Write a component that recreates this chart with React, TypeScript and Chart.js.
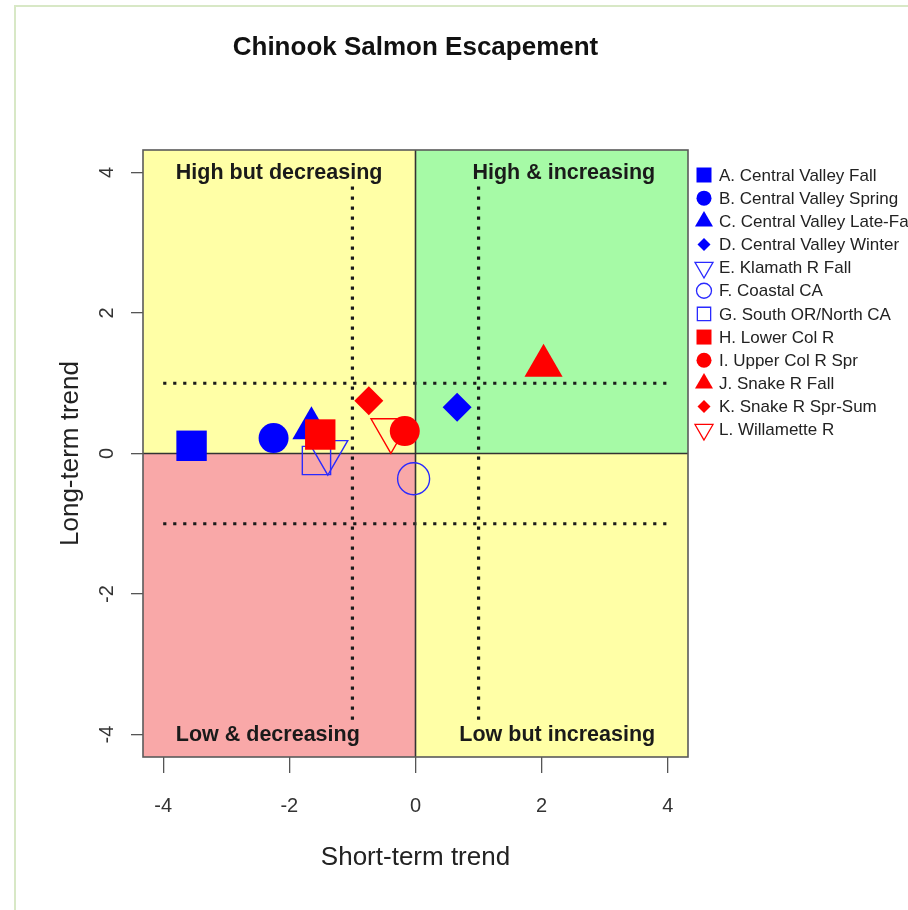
import React, { useEffect, useRef } from 'react';
import { Chart, registerables } from 'chart.js';
import { drawPoint } from 'chart.js/helpers';

Chart.register(...registerables);

// ---------- data ----------
const chartTitle = 'Chinook Salmon Escapement';
const seriesNames = [
  'A. Central Valley Fall',
  'B. Central Valley Spring',
  'C. Central Valley Late-Fall',
  'D. Central Valley Winter',
  'E. Klamath R Fall',
  'F. Coastal CA',
  'G. South OR/North CA',
  'H. Lower Col R',
  'I. Upper Col R Spr',
  'J. Snake R Fall',
  'K. Snake R Spr-Sum',
  'L. Willamette R',
];
const shortTerm = [-3.55, -2.25, -1.65, 0.66, -1.39, -0.03, -1.57, -1.51, -0.17, 2.03, -0.74, -0.39];
const longTerm = [0.11, 0.22, 0.36, 0.66, 0.02, -0.36, -0.1, 0.27, 0.32, 1.25, 0.75, 0.33];
const xTicks = [-4, -2, 0, 2, 4];
const yTicks = [-4, -2, 0, 2, 4];
const thresholds = [-1, 1];
const quadrantLabels = ['High but decreasing', 'High & increasing', 'Low & decreasing', 'Low but increasing'];

// ---------- styles ----------
const seriesColors = ['#0000FF', '#0000FF', '#0000FF', '#0000FF', '#2a2aFF', '#2a2aFF', '#2a2aFF',
  '#FF0000', '#FF0000', '#FF0000', '#FF0000', '#FF0000'];
const seriesShapes = ['square', 'circle', 'triangle', 'diamond', 'triDownOpen', 'circleOpen', 'squareOpen',
  'square', 'circle', 'triangle', 'diamond', 'triDownOpen'];
const shapeStyles: Record<string, any> = {
  square: { style: 'rect', rotation: 0, radius: 21.5, legendRadius: 10.6, filled: true },
  circle: { style: 'circle', rotation: 0, radius: 15, legendRadius: 7.5, filled: true },
  triangle: { style: 'triangle', rotation: 0, radius: 22, legendRadius: 10.4, filled: true },
  diamond: { style: 'rectRot', rotation: 0, radius: 14.5, legendRadius: 6.5, filled: true },
  triDownOpen: { style: 'triangle', rotation: 180, radius: 23, legendRadius: 10.4, filled: false },
  circleOpen: { style: 'circle', rotation: 0, radius: 16, legendRadius: 7.5, filled: false },
  squareOpen: { style: 'rect', rotation: 0, radius: 20, legendRadius: 9.4, filled: false },
};
const FONT = "'Liberation Sans', Arial, Helvetica, sans-serif";
const AXIS_MIN = -4.32;
const AXIS_MAX = 4.32;

const decorPlugin = {
  id: 'decor',
  beforeDraw(chart: any) {
    const { ctx, width, height, chartArea: ca } = chart;
    ctx.save();
    ctx.fillStyle = '#ffffff';
    ctx.fillRect(0, 0, width, height);
    ctx.strokeStyle = '#d8e8c6';
    ctx.lineWidth = 2;
    ctx.beginPath();
    ctx.moveTo(15, height);
    ctx.lineTo(15, 6);
    ctx.lineTo(width, 6);
    ctx.stroke();
    // title, centred over the plot region
    ctx.fillStyle = '#111111';
    ctx.font = `bold 26px ${FONT}`;
    ctx.textAlign = 'center';
    ctx.textBaseline = 'middle';
    ctx.fillText(chartTitle, (ca.left + ca.right) / 2, 48);
    ctx.restore();
  },
  beforeDatasetsDraw(chart: any) {
    const { ctx, chartArea: ca, scales } = chart;
    const xs = scales.x;
    const ys = scales.y;
    const x0 = xs.getPixelForValue(0);
    const y0 = ys.getPixelForValue(0);
    ctx.save();
    // quadrants
    ctx.fillStyle = '#FFFFA6';
    ctx.fillRect(ca.left, ca.top, x0 - ca.left, y0 - ca.top);
    ctx.fillRect(x0, y0, ca.right - x0, ca.bottom - y0);
    ctx.fillStyle = '#A6FAA6';
    ctx.fillRect(x0, ca.top, ca.right - x0, y0 - ca.top);
    ctx.fillStyle = '#F9A8A8';
    ctx.fillRect(ca.left, y0, x0 - ca.left, ca.bottom - y0);

    // dotted threshold lines
    ctx.strokeStyle = '#1a1a1a';
    ctx.lineWidth = 3.2;
    ctx.setLineDash([3.2, 6.8]);
    thresholds.forEach((t) => {
      const py = ys.getPixelForValue(t);
      ctx.beginPath();
      ctx.moveTo(xs.getPixelForValue(-4), py);
      ctx.lineTo(xs.getPixelForValue(4), py);
      ctx.stroke();
      const px = xs.getPixelForValue(t);
      ctx.beginPath();
      ctx.moveTo(px, ys.getPixelForValue(3.8));
      ctx.lineTo(px, ys.getPixelForValue(-3.8));
      ctx.stroke();
    });
    ctx.setLineDash([]);

    // zero lines
    ctx.strokeStyle = '#333333';
    ctx.lineWidth = 1.6;
    ctx.beginPath();
    ctx.moveTo(x0, ca.top);
    ctx.lineTo(x0, ca.bottom);
    ctx.moveTo(ca.left, y0);
    ctx.lineTo(ca.right, y0);
    ctx.stroke();

    // box
    ctx.strokeStyle = '#5a5a5a';
    ctx.lineWidth = 1.6;
    ctx.strokeRect(ca.left, ca.top, ca.right - ca.left, ca.bottom - ca.top);

    // quadrant labels
    ctx.fillStyle = '#1a1a1a';
    ctx.font = `bold 21.5px ${FONT}`;
    ctx.textBaseline = 'middle';
    const labelPos = [
      [-3.8, 4, 'left'], [3.8, 4, 'right'], [-3.8, -4, 'left'], [3.8, -4, 'right'],
    ];
    quadrantLabels.forEach((txt, i) => {
      const [vx, vy, al] = labelPos[i] as [number, number, CanvasTextAlign];
      ctx.textAlign = al;
      ctx.fillText(txt, xs.getPixelForValue(vx), ys.getPixelForValue(vy) + 1);
    });

    // y tick labels (rotated, R style)
    ctx.fillStyle = '#333333';
    ctx.font = `20px ${FONT}`;
    ctx.textAlign = 'center';
    ctx.textBaseline = 'middle';
    yTicks.forEach((v) => {
      const py = ys.getPixelForValue(v);
      ctx.save();
      ctx.translate(107, py);
      ctx.rotate(-Math.PI / 2);
      ctx.fillText(String(v), 0, 0);
      ctx.restore();
    });
    ctx.restore();
  },
  afterDraw(chart: any) {
    const { ctx } = chart;
    ctx.save();
    const top = 175;
    const step = 23.15;
    seriesNames.forEach((name, i) => {
      const st = shapeStyles[seriesShapes[i]];
      const cy = top + i * step;
      ctx.fillStyle = st.filled ? seriesColors[i] : 'rgba(0,0,0,0)';
      ctx.strokeStyle = seriesColors[i];
      ctx.lineWidth = 1.3;
      drawPoint(ctx, {
        pointStyle: st.style,
        rotation: st.rotation,
        radius: st.legendRadius,
        borderWidth: st.filled ? 0 : 1.3,
      } as any, 704, cy);
      ctx.fillStyle = '#222222';
      ctx.font = `17px ${FONT}`;
      ctx.textAlign = 'left';
      ctx.textBaseline = 'middle';
      ctx.fillText(name, 719, cy + 1);
    });
    ctx.restore();
  },
};

export default function App() {
  const ref = useRef<HTMLCanvasElement>(null);
  useEffect(() => {
    const n = seriesNames.length;
    const datasets = seriesNames.map((name, i) => {
      const st = shapeStyles[seriesShapes[i]];
      return {
        label: name,
        data: [{ x: shortTerm[i], y: longTerm[i] }],
        order: n - i,
        pointStyle: st.style,
        pointRotation: st.rotation,
        pointRadius: st.radius,
        pointHoverRadius: st.radius,
        pointBackgroundColor: st.filled ? seriesColors[i] : 'rgba(0,0,0,0)',
        backgroundColor: st.filled ? seriesColors[i] : 'rgba(0,0,0,0)',
        pointBorderColor: seriesColors[i],
        borderColor: seriesColors[i],
        pointBorderWidth: st.filled ? 0 : 1.4,
        borderWidth: st.filled ? 0 : 1.4,
        showLine: false,
      };
    });
    const chart = new Chart(ref.current as HTMLCanvasElement, {
      type: 'scatter',
      data: { datasets },
      options: {
        animation: false,
        responsive: false,
        devicePixelRatio: 1,
        events: [],
        layout: { padding: { top: 150, left: 0, right: 220, bottom: 0 } },
        plugins: {
          legend: { display: false },
          tooltip: { enabled: false },
          title: { display: false },
        },
        scales: {
          x: {
            type: 'linear',
            position: 'bottom',
            min: AXIS_MIN,
            max: AXIS_MAX,
            afterBuildTicks: (s: any) => { s.ticks = xTicks.map((v) => ({ value: v })); },
            afterFit: (s: any) => { s.height = 153; },
            grid: { drawOnChartArea: false, drawTicks: true, tickLength: 16, color: '#555555', lineWidth: 1.3 },
            border: { display: false },
            ticks: {
              color: '#333333',
              font: { family: FONT, size: 20 },
              padding: 21,
              maxRotation: 0,
              minRotation: 0,
              callback: (v: any) => String(v),
            },
            title: {
              display: true,
              text: 'Short-term trend',
              color: '#222222',
              font: { family: FONT, size: 26 },
              padding: 37,
            },
          },
          y: {
            type: 'linear',
            position: 'left',
            min: AXIS_MIN,
            max: AXIS_MAX,
            afterBuildTicks: (s: any) => { s.ticks = yTicks.map((v) => ({ value: v })); },
            afterFit: (s: any) => { s.width = 143; },
            grid: { drawOnChartArea: false, drawTicks: true, tickLength: 12, color: '#555555', lineWidth: 1.3 },
            border: { display: false },
            ticks: { display: false },
            title: {
              display: true,
              text: 'Long-term trend',
              color: '#222222',
              font: { family: FONT, size: 26 },
              padding: 55,
            },
          },
        },
      },
      plugins: [decorPlugin],
    } as any);
    return () => chart.destroy();
  }, []);
  return (
    <div style={{ position: 'fixed', left: 0, top: 0, width: 908, height: 910, background: '#ffffff' }}>
      <canvas ref={ref} width={908} height={910} style={{ display: 'block', width: '908px', height: '910px' }} />
    </div>
  );
}
